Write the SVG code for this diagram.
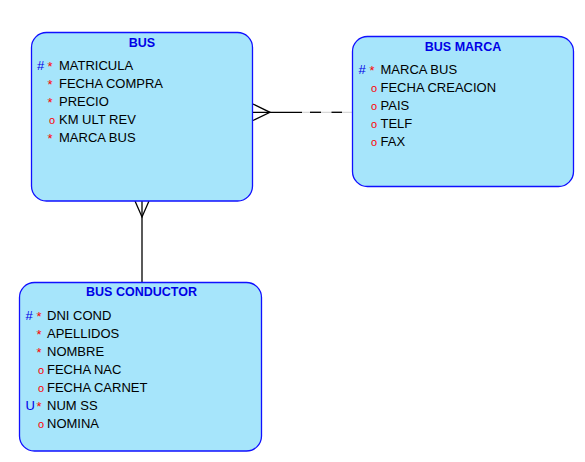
<svg xmlns="http://www.w3.org/2000/svg" width="585" height="462" viewBox="0 0 585 462">
<style>
.box{fill:#a6e5fb;stroke:#1010ff;stroke-width:1.3}
.title{font-family:"Liberation Sans",Arial,sans-serif;font-size:12.5px;font-weight:bold;fill:#0000e6;text-anchor:middle}
.t{font-family:"Liberation Sans",Arial,sans-serif;font-size:13px;fill:#000}
.k{font-family:"Liberation Sans",Arial,sans-serif;font-size:13px;fill:#0000e6}
.m{font-family:"Liberation Sans",Arial,sans-serif;font-size:13px;fill:#ff0000}
.o{font-family:"Liberation Sans",Arial,sans-serif;font-size:11px;fill:#ff0000}
.ln{stroke:#000;stroke-width:1.3;fill:none}
.gap{stroke:#d8d8d8;stroke-width:1.3;fill:none}
</style>
<rect width="585" height="462" fill="#fff"/>
<g id="connectors">
<line class="ln" x1="142" y1="201" x2="142" y2="282.5"/>
<polyline class="ln" points="135,201 142,217 149,201"/>
<line class="ln" x1="253" y1="112.3" x2="302" y2="112.3"/>
<line class="gap" x1="302" y1="112.3" x2="352.5" y2="112.3"/>
<line class="ln" x1="310" y1="112.3" x2="321" y2="112.3"/>
<line class="ln" x1="331.5" y1="112.3" x2="342" y2="112.3"/>
<polyline class="ln" points="253,104 270,112.3 253,120.5"/>
</g>
<g id="bus">
<rect class="box" x="31.5" y="32.5" width="221" height="168.5" rx="15"/>
<text class="title" x="142" y="46.5">BUS</text>
<text class="k" x="37" y="70">#</text><text class="m" x="47.5" y="71">*</text><text class="t" x="59" y="70">MATRICULA</text>
<text class="m" x="47.5" y="89">*</text><text class="t" x="59" y="88">FECHA COMPRA</text>
<text class="m" x="47.5" y="107">*</text><text class="t" x="59" y="106">PRECIO</text>
<text class="o" x="49" y="124">o</text><text class="t" x="59" y="124">KM ULT REV</text>
<text class="m" x="47.5" y="143">*</text><text class="t" x="59" y="142">MARCA BUS</text>
</g>
<g id="bus-marca">
<rect class="box" x="352.5" y="36.5" width="221" height="150" rx="15"/>
<text class="title" x="463" y="50.5">BUS MARCA</text>
<text class="k" x="358.5" y="74">#</text><text class="m" x="369.5" y="75">*</text><text class="t" x="380.5" y="74">MARCA BUS</text>
<text class="o" x="371" y="92">o</text><text class="t" x="380.5" y="92">FECHA CREACION</text>
<text class="o" x="371" y="110">o</text><text class="t" x="380.5" y="110">PAIS</text>
<text class="o" x="371" y="128">o</text><text class="t" x="380.5" y="128">TELF</text>
<text class="o" x="371" y="146">o</text><text class="t" x="380.5" y="146">FAX</text>
</g>
<g id="bus-conductor">
<rect class="box" x="19.5" y="282.5" width="242" height="168.5" rx="15"/>
<text class="title" x="141.5" y="296">BUS CONDUCTOR</text>
<text class="k" x="25.5" y="319.5">#</text><text class="m" x="36.5" y="320.5">*</text><text class="t" x="47" y="319.5">DNI COND</text>
<text class="m" x="36.5" y="338.5">*</text><text class="t" x="47" y="337.5">APELLIDOS</text>
<text class="m" x="36.5" y="356.5">*</text><text class="t" x="47" y="355.5">NOMBRE</text>
<text class="o" x="38" y="373.5">o</text><text class="t" x="47" y="373.5">FECHA NAC</text>
<text class="o" x="38" y="391.5">o</text><text class="t" x="47" y="391.5">FECHA CARNET</text>
<text class="k" x="25.5" y="409.5">U</text><text class="m" x="36.5" y="410.5">*</text><text class="t" x="47" y="409.5">NUM SS</text>
<text class="o" x="38" y="427.5">o</text><text class="t" x="47" y="427.5">NOMINA</text>
</g>
</svg>
